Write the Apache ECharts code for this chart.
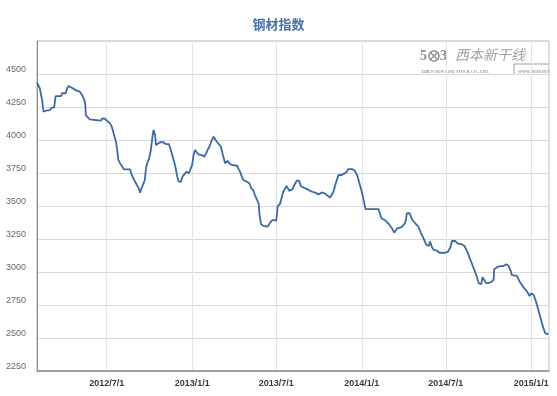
<!DOCTYPE html>
<html>
<head>
<meta charset="utf-8">
<script src="https://cdn.jsdelivr.net/npm/echarts@6/dist/echarts.min.js"></script>
<style>
html,body{margin:0;padding:0;background:#fff;}
#c{width:557px;height:396px;}
</style>
</head>
<body>
<div id="c"></div>
<script>
const titleText = '钢材指数';
const dates = [
'2012-02-02','2012-02-08','2012-02-13','2012-02-16','2012-02-21','2012-03-01','2012-03-05','2012-03-10','2012-03-13','2012-03-25',
'2012-03-27','2012-04-04','2012-04-07','2012-04-10','2012-04-14','2012-04-19','2012-04-27','2012-05-04','2012-05-09','2012-05-14',
'2012-05-16','2012-05-17','2012-05-20','2012-05-25','2012-05-26','2012-06-18','2012-06-22','2012-06-27','2012-07-01','2012-07-08',
'2012-07-12','2012-07-17','2012-07-21','2012-07-24','2012-07-26','2012-07-30','2012-08-03','2012-08-07','2012-08-20','2012-08-24',
'2012-08-29','2012-09-04','2012-09-07','2012-09-11','2012-09-14','2012-09-18','2012-09-21','2012-09-24','2012-09-26','2012-10-01',
'2012-10-04','2012-10-08','2012-10-10','2012-10-13','2012-10-15','2012-10-18','2012-10-24','2012-10-31','2012-11-06','2012-11-12',
'2012-11-16','2012-11-21','2012-11-25','2012-11-30','2012-12-03','2012-12-08','2012-12-11','2012-12-15','2012-12-20','2012-12-25',
'2012-12-29','2013-01-01','2013-01-04','2013-01-07','2013-01-11','2013-01-14','2013-01-22','2013-01-27','2013-01-31','2013-02-03',
'2013-02-07','2013-02-11','2013-02-16','2013-02-19','2013-02-23','2013-02-27','2013-03-04','2013-03-08','2013-03-11','2013-03-13',
'2013-03-18','2013-03-22','2013-03-27','2013-04-08','2013-04-10','2013-04-14','2013-04-18','2013-04-21','2013-04-29','2013-05-04',
'2013-05-08','2013-05-13','2013-05-16','2013-05-20','2013-05-24','2013-05-26','2013-05-29','2013-06-03','2013-06-12','2013-06-16',
'2013-06-21','2013-06-26','2013-07-01','2013-07-04','2013-07-09','2013-07-16','2013-07-23','2013-07-29','2013-08-04','2013-08-09',
'2013-08-14','2013-08-19','2013-08-23','2013-08-27','2013-09-05','2013-09-16','2013-09-23','2013-09-30','2013-10-07','2013-10-14',
'2013-10-25','2013-11-01','2013-11-07','2013-11-12','2013-11-19','2013-11-25','2013-11-30','2013-12-03','2013-12-11','2013-12-16',
'2013-12-22','2013-12-27','2014-01-01','2014-01-05','2014-01-09','2014-02-06','2014-02-10','2014-02-13','2014-02-21','2014-02-28',
'2014-03-07','2014-03-12','2014-03-18','2014-03-28','2014-04-05','2014-04-08','2014-04-14','2014-04-19','2014-04-26','2014-05-03',
'2014-05-08','2014-05-14','2014-05-20','2014-05-25','2014-05-28','2014-06-01','2014-06-05','2014-06-12','2014-06-17','2014-06-30',
'2014-07-05','2014-07-11','2014-07-14','2014-07-21','2014-07-26','2014-08-03','2014-08-10','2014-08-16','2014-08-23','2014-08-30',
'2014-09-05','2014-09-10','2014-09-15','2014-09-18','2014-09-22','2014-09-26','2014-10-03','2014-10-08','2014-10-12','2014-10-13',
'2014-10-19','2014-10-23','2014-10-26','2014-11-02','2014-11-08','2014-11-13','2014-11-17','2014-11-20','2014-11-24','2014-12-01',
'2014-12-07','2014-12-15','2014-12-23','2014-12-28','2015-01-01','2015-01-06','2015-01-10','2015-01-13','2015-01-17','2015-01-22',
'2015-01-26','2015-01-31','2015-02-07'
];
const values = [
4434,4392,4303,4214,4222,4227,4245,4245,4333,4333,
4354,4354,4392,4409,4404,4392,4374,4366,4341,4303,
4265,4189,4189,4157,4146,4146,4164,4161,4146,4126,
4101,4038,3987,3911,3849,3823,3818,3778,3778,3735,
3697,3659,3642,3601,3634,3626,3697,3798,3811,3869,
3924,4038,4076,4040,3962,3949,3983,3983,3968,3968,
3924,3861,3811,3722,3684,3684,3722,3735,3760,3747,
3785,3811,3886,3924,3920,3892,3886,3873,3899,3924,
3949,3987,4025,4020,3987,3987,3949,3886,3849,3823,
3843,3823,3811,3805,3785,3760,3722,3697,3684,3672,
3634,3616,3583,3570,3520,3432,3364,3349,3343,3364,
3390,3394,3388,3500,3515,3608,3652,3615,3625,3659,
3692,3692,3650,3640,3628,3608,3601,3588,3603,3594,
3563,3608,3684,3735,3735,3747,3760,3780,3780,3772,
3735,3672,3608,3545,3477,3477,3432,3405,3390,3364,
3331,3298,3331,3340,3375,3445,3445,3400,3369,3343,
3298,3255,3205,3197,3230,3187,3167,3161,3146,3146,
3152,3187,3235,3235,3217,3212,3197,3154,3091,3028,
2970,2914,2909,2960,2964,2914,2919,2926,2944,3020,
3036,3030,3045,3045,3058,3045,3015,2977,2964,2970,
2926,2884,2851,2818,2839,2826,2788,2750,2699,2636,
2586,2535,2530
];
const xRange = ['2012-02-02', '2015-02-08'];
const yTickLabels = [2250, 2500, 2750, 3000, 3250, 3500, 3750, 4000, 4250, 4500];
const yMax = 4750;

const chart = echarts.init(document.getElementById('c'), null, {renderer: 'canvas'});
const DAY = 24 * 3600 * 1000;
const seriesData = dates.map((d, i) => [d, values[i]]);

chart.setOption({
  animation: false,
  backgroundColor: '#ffffff',
  title: {
    text: titleText,
    left: 'center',
    top: 13,
    textStyle: {color: '#4a72a9', fontSize: 13, fontWeight: 'bold', fontFamily: '"Noto Sans CJK SC", sans-serif'}
  },
  grid: {
    left: 37, right: 8, top: 41, bottom: 25,
    show: true, borderColor: '#b5b5b5', borderWidth: 1,
    outerBoundsMode: 'none'
  },
  xAxis: {
    type: 'time',
    min: xRange[0],
    max: xRange[1],
    minInterval: DAY * 180,
    maxInterval: DAY * 186,
    axisLine: {show: true, lineStyle: {color: '#8a8a8a', width: 1.5}},
    axisTick: {show: false},
    splitLine: {show: true, lineStyle: {color: '#dfe3ea', width: 1}},
    axisLabel: {
      color: '#3a3a3a', fontSize: 9, fontWeight: 'bold', margin: 8,
      fontFamily: '"Liberation Sans", Arial, sans-serif',
      showMinLabel: false, showMaxLabel: false,
      formatter: function (v) {
        const d = new Date(v);
        return d.getFullYear() + '/' + (d.getMonth() + 1) + '/' + d.getDate();
      }
    }
  },
  yAxis: {
    type: 'value',
    min: yTickLabels[0],
    max: yMax,
    interval: 250,
    axisLine: {show: true, lineStyle: {color: '#8a8a8a', width: 1}},
    axisTick: {show: false},
    splitLine: {show: true, lineStyle: {color: '#d8d8d8', width: 1}},
    axisLabel: {
      color: '#6a6a6a', fontSize: 9, margin: 11,
      verticalAlign: 'bottom',
      fontFamily: '"Liberation Sans", Arial, sans-serif',
      formatter: function (v) { return yTickLabels.indexOf(v) >= 0 ? String(v) : ''; }
    }
  },
  graphic: [
    {type: 'text', left: 420, top: 49, style: {text: '5', fill: '#8f8f8f', font: 'bold 14px "Liberation Serif", serif'}},
    {type: 'circle', shape: {cx: 434, cy: 56, r: 5}, style: {fill: 'none', stroke: '#8f8f8f', lineWidth: 1.5}},
    {type: 'line', shape: {x1: 430, y1: 52, x2: 438, y2: 60}, style: {stroke: '#8f8f8f', lineWidth: 1.5}},
    {type: 'line', shape: {x1: 438, y1: 52, x2: 430, y2: 60}, style: {stroke: '#8f8f8f', lineWidth: 1.5}},
    {type: 'text', left: 440, top: 49, style: {text: '3', fill: '#8f8f8f', font: 'bold 14px "Liberation Serif", serif'}},
    {type: 'text', left: 455, top: 48, style: {text: '西本新干线', fill: '#a0a0a0', font: 'italic 14px "Noto Sans CJK SC", sans-serif'}},
    {type: 'polyline', shape: {points: [[514, 75], [514, 64], [550, 64]]}, style: {stroke: '#a0a0a0', lineWidth: 1, fill: 'none'}},
    {type: 'text', left: 421, top: 70, style: {text: 'XIBEN NEW LINE STOCK CO., LTD.', fill: '#999', font: 'bold 4px "Liberation Serif", serif'}},
    {type: 'text', left: 518, top: 70, style: {text: 'WWW.96369.NET', fill: '#999', font: 'bold 4px "Liberation Serif", serif'}}
  ],
  series: [{
    type: 'line',
    data: seriesData,
    symbol: 'none',
    smooth: false,
    lineStyle: {color: '#3d6a9f', width: 1.8},
    z: 5
  }]
});
</script>
</body>
</html>
